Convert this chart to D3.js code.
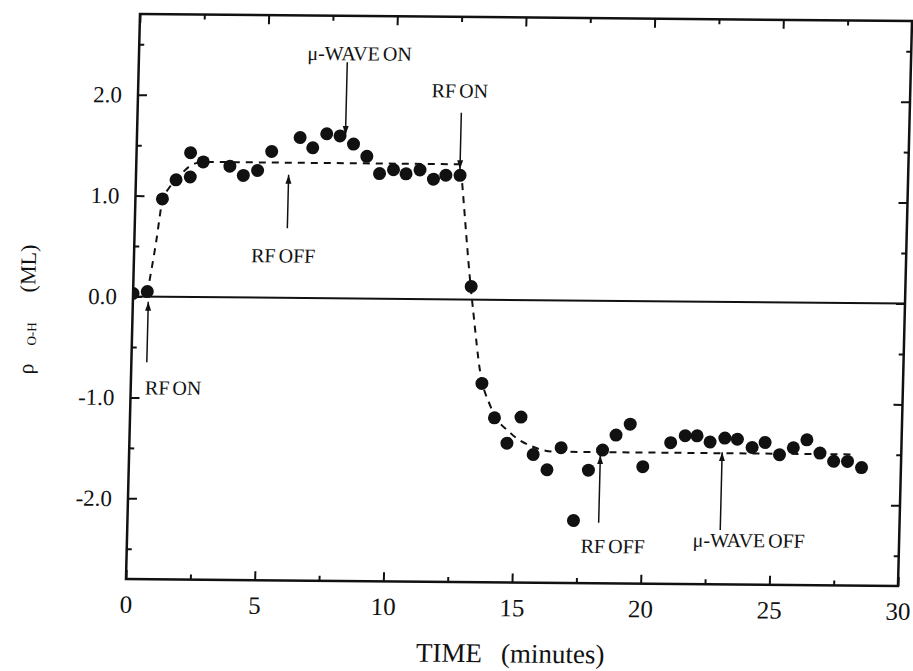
<!DOCTYPE html>
<html>
<head>
<meta charset="utf-8">
<script src="https://cdn.jsdelivr.net/npm/d3@7"></script>
<style>
    body { margin:0; background:white; }
    svg text { font-family:"Liberation Serif","Times New Roman",serif; fill:#111; }
</style>
</head>
<body>
<svg id="scan"></svg>
<script>

//measured points (time in minutes, coverage in ML)
var timeMin = [0.0, 0.55, 1.05, 1.56, 2.10, 2.11, 2.60, 3.64, 4.17, 4.72,
               5.25, 6.34, 6.84, 7.37, 7.89, 8.42, 8.95, 9.46, 10.0, 10.49,
               11.03, 11.56, 12.04, 12.59, 13.13, 13.64, 14.16, 14.67, 15.19, 15.70,
               16.25, 16.78, 17.33, 17.86, 18.39, 18.90, 19.44, 19.97, 21.03, 21.59,
               22.05, 22.56, 23.13, 23.62, 24.20, 24.70, 25.27, 25.80, 26.32, 26.84,
               27.38, 27.92, 28.47];
var rhoOH = [0.03, 0.05, 0.97, 1.16, 1.43, 1.19, 1.34, 1.30, 1.21, 1.26,
             1.45, 1.59, 1.49, 1.63, 1.61, 1.53, 1.41, 1.24, 1.28, 1.24,
             1.28, 1.19, 1.23, 1.23, 0.13, -0.83, -1.17, -1.42, -1.16, -1.53,
             -1.68, -1.46, -2.18, -1.68, -1.48, -1.33, -1.22, -1.64, -1.40, -1.33,
             -1.33, -1.39, -1.35, -1.36, -1.44, -1.39, -1.51, -1.44, -1.36, -1.49,
             -1.57, -1.57, -1.63];

//dashed guide line through the data
var fitTime = [0.55, 0.85, 1.05, 1.3, 1.6, 2.1, 2.6, 12.6, 12.66, 13.1,
               13.25, 13.55, 14.0, 14.8, 15.65, 16.5, 28.1];
var fitRho = [0.03, 0.55, 0.95, 1.08, 1.17, 1.30, 1.34, 1.34, 1.20, 0.15,
              -0.15, -0.70, -1.06, -1.32, -1.45, -1.50, -1.50];

//annotations (arrow at annoTime from arrowFrom to arrowTo, text at labelTime/labelRho)
var annoLabels = ["RF ON", "RF OFF", "\u03bc-WAVE ON", "RF ON", "RF OFF", "\u03bc-WAVE OFF"];
var annoTime   = [0.6, 5.93, 8.1, 12.58, 18.31, 23.04];
var arrowFrom  = [-0.65, 0.69, 2.34, 1.85, -2.20, -2.26];
var arrowTo    = [-0.05, 1.22, 1.62, 1.29, -1.53, -1.49];
var labelTime  = [1.65, 5.80, 8.57, 12.5, 18.88, 24.16];
var labelRho   = [-0.97, 0.35, 2.36, 2.0, -2.50, -2.43];

//ticks
var xTicks = [0, 5, 10, 15, 20, 25, 30];
var xTickLabels = ["0", "5", "10", "15", "20", "25", "30"];
var xMinor = [2.5, 7.5, 12.5, 17.5, 22.5, 27.5];
var yTicks = [-2, -1, 0, 1, 2];
var yTickLabels = ["-2.0", "-1.0", "0.0", "1.0", "2.0"];
var yMinor = [-2.5, -1.5, -0.5, 0.5, 1.5, 2.5];


var screen = {width:913, height:671};
var plot = {width:772, height:565};

var svg = d3.select("svg#scan")
    .attr("width", screen.width)
    .attr("height", screen.height)
    .style("background-color", "white");

//the scanned page sits a little crooked
var g = svg.append("g")
    .attr("transform", "matrix(1,0.00907,-0.0248,1,140,14)");

var xScale = d3.scaleLinear()
    .domain([0, 30])
    .range([0, plot.width]);

var yScale = d3.scaleLinear()
    .domain([-2.8, 2.8])
    .range([plot.height, 0]);

var ink = "#111";

g.append("defs").append("clipPath")
    .attr("id", "plotClip")
    .append("rect")
    .attr("width", plot.width)
    .attr("height", plot.height);

var marker = g.select("defs").append("marker")
    .attr("id", "head")
    .attr("markerUnits", "userSpaceOnUse")
    .attr("markerWidth", 10)
    .attr("markerHeight", 10)
    .attr("viewBox", "0 -5 10 10")
    .attr("refX", 9)
    .attr("refY", 0)
    .attr("orient", "auto");
marker.append("path")
    .attr("d", "M0,-3L9,0L0,3Z")
    .attr("fill", ink);

//tick marks on all four sides, pointing in
var styleAxis = function(sel)
{
    sel.select(".domain").remove();
    sel.selectAll(".tick line")
        .attr("stroke", ink)
        .attr("stroke-width", 2);
}

var addAxis = function(axis, values, size, labels, move)
{
    axis.tickValues(values).tickSize(-size);
    if (labels) {
        axis.tickFormat(function(d, i) { return labels[i]; });
    } else {
        axis.tickFormat("");
    }
    var a = g.append("g")
        .attr("transform", move)
        .call(axis);
    styleAxis(a);
    return a;
}

var xa = addAxis(d3.axisBottom(xScale).tickPadding(16), xTicks, 9, xTickLabels,
                 "translate(0," + plot.height + ")");
xa.selectAll("text").attr("font-size", 25);
addAxis(d3.axisBottom(xScale), xMinor, 5, null, "translate(0," + plot.height + ")");
addAxis(d3.axisTop(xScale), xTicks, 9, null, "translate(0,0)");
addAxis(d3.axisTop(xScale), xMinor, 5, null, "translate(0,0)");

var ya = addAxis(d3.axisLeft(yScale).tickPadding(16), yTicks, 9, yTickLabels, "translate(0,0)");
ya.selectAll("text").attr("font-size", 23);
addAxis(d3.axisLeft(yScale), yMinor, 5, null, "translate(0,0)");
addAxis(d3.axisRight(yScale), yTicks, 9, null, "translate(" + plot.width + ",0)");
addAxis(d3.axisRight(yScale), yMinor, 5, null, "translate(" + plot.width + ",0)");

//frame
g.append("rect")
    .attr("width", plot.width)
    .attr("height", plot.height)
    .attr("fill", "none")
    .attr("stroke", ink)
    .attr("stroke-width", 2.5);

//zero line
g.append("line")
    .attr("x1", 0)
    .attr("x2", plot.width)
    .attr("y1", yScale(0))
    .attr("y2", yScale(0))
    .attr("stroke", ink)
    .attr("stroke-width", 2);

//dashed guide
var fit = fitTime.map(function(t, i) { return [t, fitRho[i]]; });
var lineGenerator = d3.line()
    .x(function(d) { return xScale(d[0]); })
    .y(function(d) { return yScale(d[1]); })
    .curve(d3.curveMonotoneX);

g.append("path")
    .datum(fit)
    .attr("d", lineGenerator)
    .attr("fill", "none")
    .attr("stroke", ink)
    .attr("stroke-width", 2)
    .attr("stroke-dasharray", "7,6");

//data points
var points = timeMin.map(function(t, i) { return {t:t, rho:rhoOH[i]}; });
g.append("g")
    .attr("clip-path", "url(#plotClip)")
    .selectAll("circle")
    .data(points)
    .enter()
    .append("circle")
    .attr("cx", function(d) { return xScale(d.t); })
    .attr("cy", function(d) { return yScale(d.rho); })
    .attr("r", 6.5)
    .attr("fill", ink);

//arrows and their labels
var annos = annoLabels.map(function(txt, i) {
    return {txt:txt, t:annoTime[i], from:arrowFrom[i], to:arrowTo[i],
            lt:labelTime[i], lr:labelRho[i]};
});

var notes = g.append("g").classed("notes", true);
notes.selectAll("line")
    .data(annos)
    .enter()
    .append("line")
    .attr("x1", function(d) { return xScale(d.t); })
    .attr("x2", function(d) { return xScale(d.t); })
    .attr("y1", function(d) { return yScale(d.from); })
    .attr("y2", function(d) { return yScale(d.to); })
    .attr("stroke", ink)
    .attr("stroke-width", 1.5)
    .attr("marker-end", "url(#head)");

notes.selectAll("text")
    .data(annos)
    .enter()
    .append("text")
    .text(function(d) { return d.txt; })
    .attr("x", function(d) { return xScale(d.lt); })
    .attr("y", function(d) { return yScale(d.lr); })
    .attr("text-anchor", "middle")
    .attr("font-size", 20)
    .attr("word-spacing", -2);

//axis titles
var xTitle = g.append("text")
    .attr("text-anchor", "middle")
    .attr("x", plot.width / 2)
    .attr("y", plot.height + 80)
    .attr("font-size", 27);
xTitle.append("tspan").text("TIME");
xTitle.append("tspan").attr("dx", 19).text("(minutes)");

var yTitle = g.append("text")
    .attr("text-anchor", "middle")
    .attr("transform", "translate(-98," + (yScale(0) + 14) + ") rotate(-90)")
    .attr("font-size", 22);
yTitle.append("tspan").text("\u03c1");
yTitle.append("tspan").attr("dx", 18).attr("dy", 2).attr("font-size", 13).text("O-H");
yTitle.append("tspan").attr("dx", 30).attr("dy", -2).text("(ML)");

</script>
</body>
</html>
